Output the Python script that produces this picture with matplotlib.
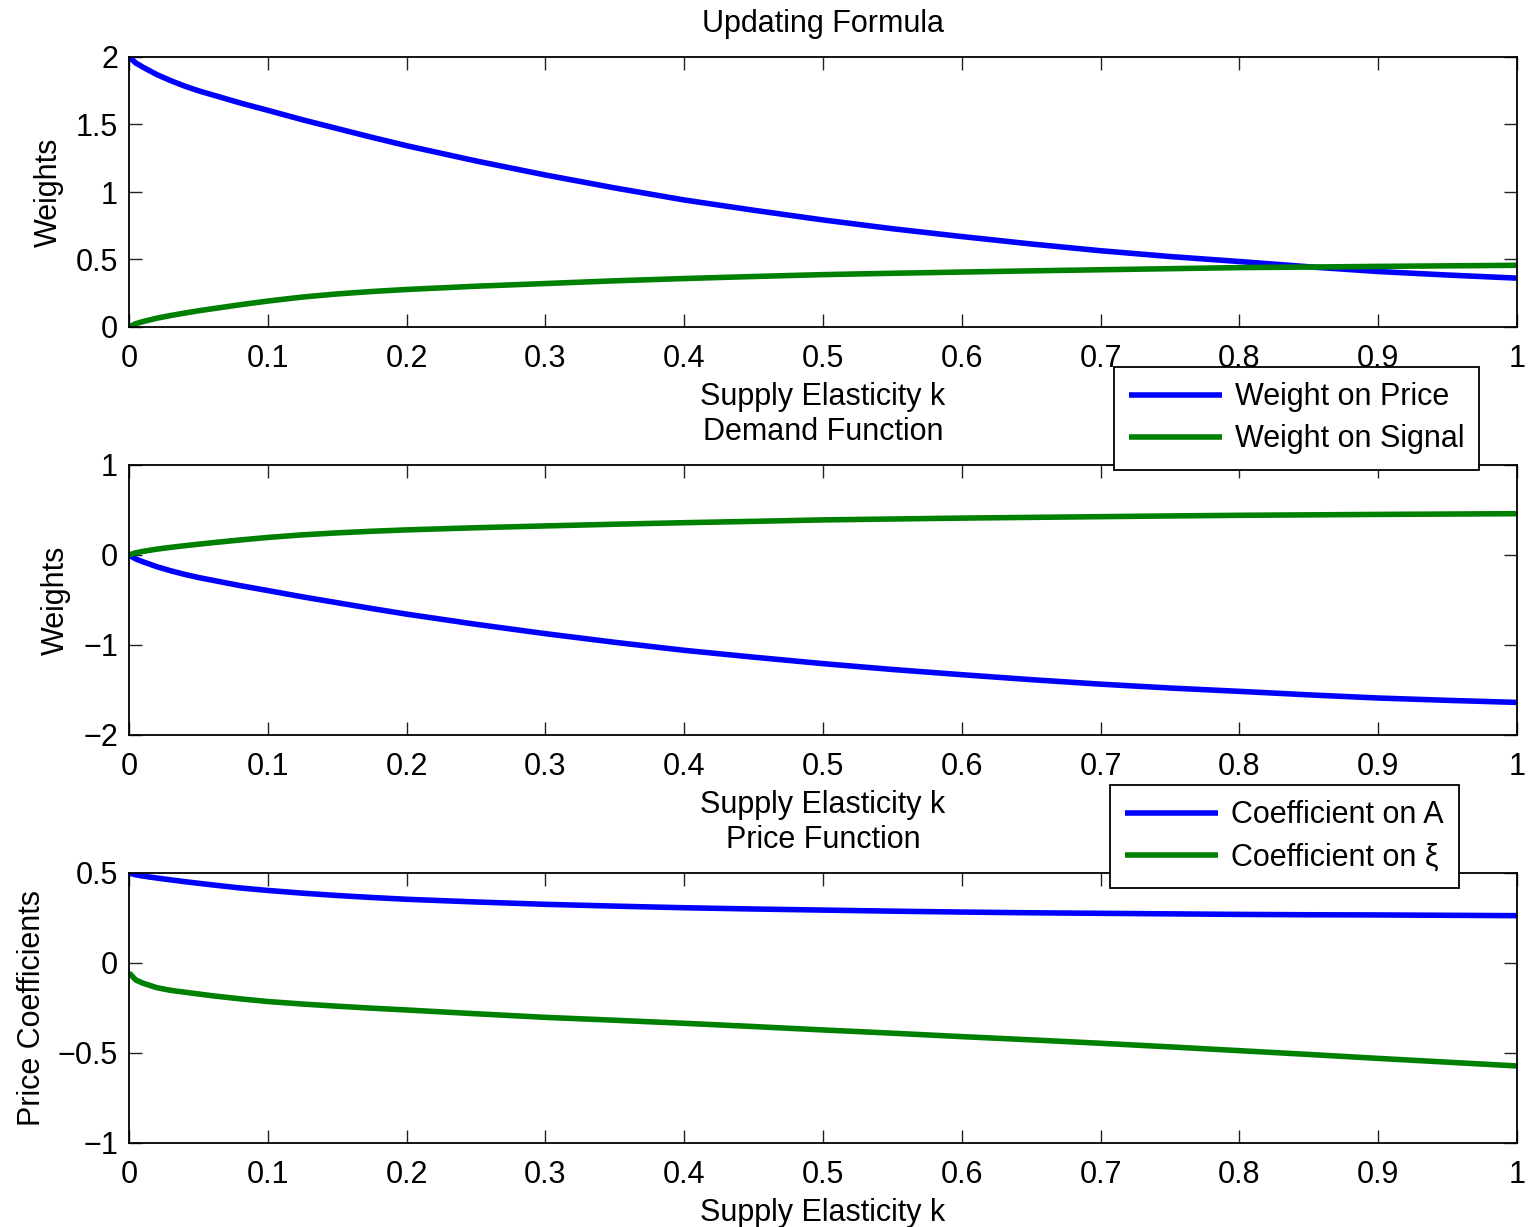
import matplotlib
matplotlib.use("Agg")
import matplotlib.pyplot as plt

plt.rcParams['font.family'] = ['Liberation Sans', 'DejaVu Sans']

# Supply elasticity grid (x values)
k = [0.0, 0.005, 0.01, 0.02, 0.03, 0.04, 0.05, 0.06, 0.08, 0.1, 0.125, 0.15, 0.175, 0.2,
     0.25, 0.3, 0.35, 0.4, 0.45, 0.5, 0.55, 0.6, 0.65, 0.7, 0.75, 0.8, 0.85, 0.9, 0.95, 1.0]

# Panel 1: Updating Formula
upd_price = [2.0, 1.955, 1.925, 1.87, 1.825, 1.785, 1.75, 1.72, 1.66, 1.605, 1.535, 1.47, 1.405, 1.343,
             1.23, 1.126, 1.03, 0.941, 0.865, 0.793, 0.728, 0.670, 0.615, 0.565, 0.522, 0.485, 0.446, 0.411, 0.385, 0.362]
upd_signal = [0.0, 0.025, 0.04, 0.065, 0.085, 0.103, 0.12, 0.135, 0.165, 0.192, 0.222, 0.245, 0.263, 0.278,
              0.302, 0.322, 0.342, 0.359, 0.374, 0.388, 0.398, 0.407, 0.416, 0.424, 0.432, 0.44, 0.444, 0.449, 0.453, 0.457]

# Panel 2: Demand Function
dem_price = [0.0, -0.045, -0.075, -0.13, -0.175, -0.215, -0.25, -0.28, -0.34, -0.395, -0.465, -0.53, -0.595, -0.657,
             -0.77, -0.874, -0.97, -1.059, -1.135, -1.207, -1.272, -1.33, -1.385, -1.435, -1.478, -1.515, -1.554, -1.589, -1.615, -1.638]
dem_signal = [0.0, 0.025, 0.04, 0.065, 0.085, 0.103, 0.12, 0.136, 0.167, 0.195, 0.224, 0.246, 0.264, 0.279,
              0.303, 0.323, 0.342, 0.359, 0.374, 0.39, 0.4, 0.41, 0.418, 0.426, 0.434, 0.441, 0.446, 0.451, 0.455, 0.459]

# Panel 3: Price Function
coef_A = [0.5, 0.49, 0.483, 0.472, 0.462, 0.452, 0.443, 0.434, 0.417, 0.403, 0.388, 0.375, 0.364, 0.354,
          0.339, 0.326, 0.316, 0.307, 0.30, 0.294, 0.288, 0.283, 0.279, 0.276, 0.273, 0.270, 0.268, 0.267, 0.265, 0.263]
coef_xi = [-0.055, -0.095, -0.112, -0.137, -0.152, -0.162, -0.172, -0.182, -0.199, -0.214, -0.228, -0.24, -0.251, -0.261,
           -0.282, -0.302, -0.318, -0.335, -0.353, -0.372, -0.39, -0.409, -0.427, -0.446, -0.466, -0.487, -0.508, -0.530, -0.551, -0.572]

xticks = [0, 0.1, 0.2, 0.3, 0.4, 0.5, 0.6, 0.7, 0.8, 0.9, 1]
xticklabels = ['0', '0.1', '0.2', '0.3', '0.4', '0.5', '0.6', '0.7', '0.8', '0.9', '1']

BLUE = (0, 0, 1)
GREEN = (0, 0.5, 0)
FS = 22
TFS = 22
LW = 4.0

fig = plt.figure(figsize=(15.28, 12.27), dpi=100)
W, H = 1528.0, 1227.0
left = 129 / W
width = 1388 / W
height = 270 / H
ax1 = fig.add_axes([left, 1 - 327 / H, width, height])
ax2 = fig.add_axes([left, 1 - 735 / H, width, height])
ax3 = fig.add_axes([left, 1 - 1143 / H, width, height])


def style(ax, ylim, yticks, yticklabels):
    ax.set_xlim(0, 1)
    ax.set_ylim(*ylim)
    ax.set_xticks(xticks)
    ax.set_xticklabels(xticklabels)
    ax.set_yticks(yticks)
    ax.set_yticklabels(yticklabels)
    ax.tick_params(direction='in', length=9.5, width=1.0, top=True, right=True,
                   labelsize=TFS, color='#222222')
    ax.tick_params(axis='x', pad=12)
    ax.tick_params(axis='y', pad=8)
    for s in ax.spines.values():
        s.set_linewidth(1.3)
    ax.set_xlabel('Supply Elasticity k', fontsize=FS, labelpad=6)


l1, = ax1.plot(k, upd_price, color=BLUE, lw=LW, solid_capstyle='butt')
l2, = ax1.plot(k, upd_signal, color=GREEN, lw=LW, solid_capstyle='butt')
style(ax1, (0, 2), [0, 0.5, 1, 1.5, 2], ['0', '0.5', '1', '1.5', '2'])
ax1.set_title('Updating Formula', fontsize=FS, pad=18)
ax1.set_ylabel('Weights', fontsize=FS, labelpad=8.5)

ax2.plot(k, dem_price, color=BLUE, lw=LW, solid_capstyle='butt')
ax2.plot(k, dem_signal, color=GREEN, lw=LW, solid_capstyle='butt')
style(ax2, (-2, 1), [-2, -1, 0, 1], ['\u22122', '\u22121', '0', '1'])
ax2.set_title('Demand Function', fontsize=FS, pad=18)
ax2.set_ylabel('Weights', fontsize=FS, labelpad=8.5)

l3, = ax3.plot(k, coef_A, color=BLUE, lw=LW, solid_capstyle='butt')
l4, = ax3.plot(k, coef_xi, color=GREEN, lw=LW, solid_capstyle='butt')
style(ax3, (-1, 0.5), [-1, -0.5, 0, 0.5], ['\u22121', '\u22120.5', '0', '0.5'])
ax3.set_title('Price Function', fontsize=FS, pad=18)
ax3.set_ylabel('Price Coefficients', fontsize=FS, labelpad=8)

leg_kw = dict(fontsize=FS, frameon=True, fancybox=False, framealpha=1,
              edgecolor='black', handlelength=3.05, handletextpad=0.4,
              borderpad=0.5, labelspacing=0.4, borderaxespad=0)
leg1 = fig.legend([l1, l2], ['Weight on Price', 'Weight on Signal'],
                  loc='upper left', bbox_to_anchor=(1114 / W, 1 - 367 / H), **leg_kw)
leg2 = fig.legend([l3, l4], ['Coefficient on A', 'Coefficient on \u03be'],
                  loc='upper left', bbox_to_anchor=(1110 / W, 1 - 785 / H), **leg_kw)
for lg in (leg1, leg2):
    lg.get_frame().set_linewidth(1.3)
    for ln in lg.get_lines():
        ln.set_linewidth(LW)

fig.savefig('out.png', dpi=100)
